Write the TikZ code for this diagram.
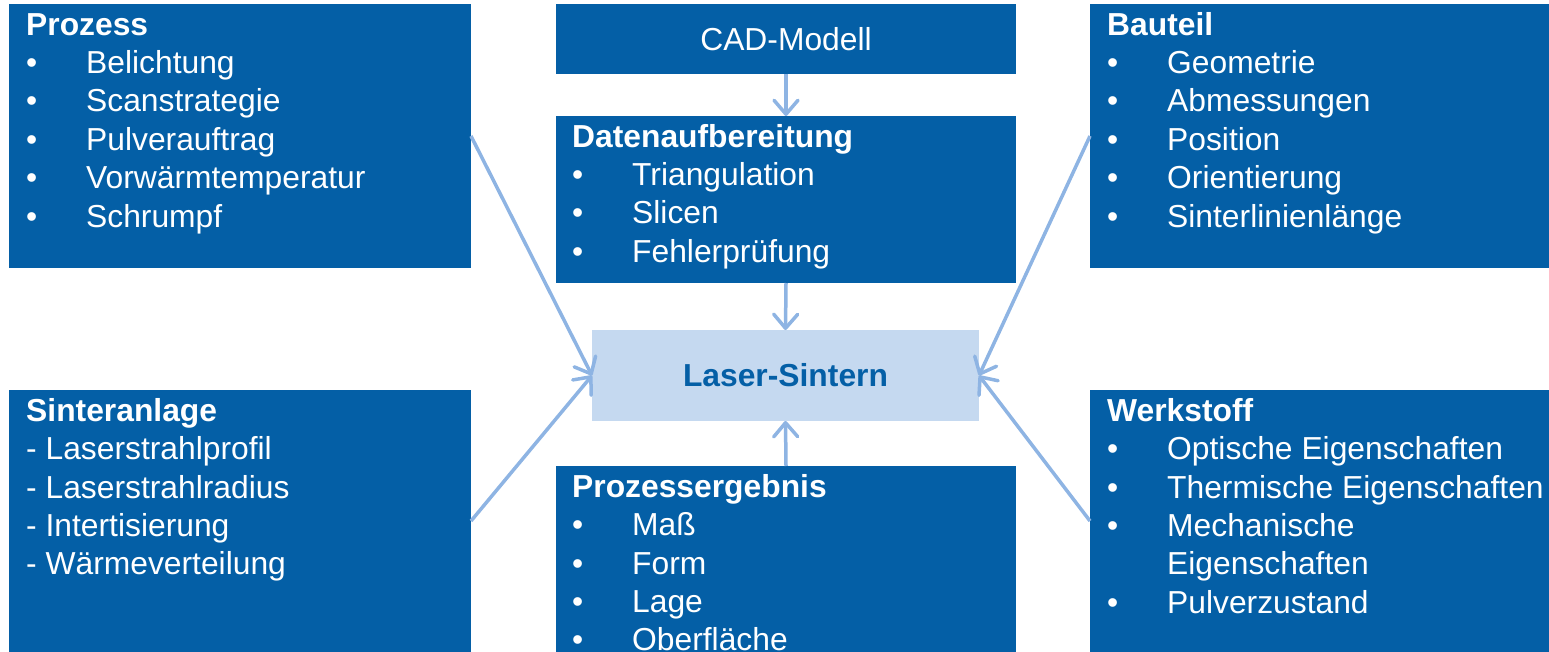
\documentclass[tikz,border=0pt]{standalone}
\usepackage{fontspec}
\setmainfont{Liberation Sans}
\usetikzlibrary{arrows.meta}

\definecolor{dunkelblau}{RGB}{4,95,166}
\definecolor{hellblau}{RGB}{197,217,240}
\definecolor{pfeilblau}{RGB}{142,180,227}

% Aufzaehlungspunkt mit Einzug
\newcommand{\pkt}[1]{\makebox[60pt][l]{\textbullet}#1}
\newcommand{\erstezeile}{\rule{0pt}{24pt}}

\tikzset{
  kasten/.style={fill=dunkelblau, inner sep=0pt, outer sep=0pt},
  inhalt/.style={text=white, align=left, inner sep=0pt, anchor=north west,
    font=\fontsize{31.8}{38.4}\selectfont},
  pfeil/.style={draw=pfeilblau, line width=3.5pt,
    -{Straight Barb[length=14pt,width=24pt,line width=3.5pt,round]}},
}

\begin{document}
\begin{tikzpicture}[x=1pt,y=-1pt]
  \useasboundingbox (0,0) rectangle (1549,652);
  \clip (0,0) rectangle (1549,652);

  % Kaesten
  \node[kasten, minimum width=462pt, minimum height=264pt] (prozess) at (240,136) {};
  \node[kasten, minimum width=460pt, minimum height=70pt, text=white,
    font=\fontsize{31.8}{38.4}\selectfont] (cad) at (786,39) {CAD-Modell};
  \node[kasten, minimum width=460pt, minimum height=167pt] (daten) at (786,199.5) {};
  \node[kasten, minimum width=459pt, minimum height=264pt] (bauteil) at (1319.5,136) {};
  \node[fill=hellblau, inner sep=0pt, outer sep=0pt, minimum width=387pt, minimum height=91pt,
    text=dunkelblau, font=\bfseries\fontsize{31.8}{38.4}\selectfont] (laser) at (785.5,375.5) {Laser-Sintern};
  \node[kasten, minimum width=462pt, minimum height=262pt] (anlage) at (240,521) {};
  \node[kasten, minimum width=460pt, minimum height=186pt] (ergebnis) at (786,559) {};
  \node[kasten, minimum width=459pt, minimum height=262pt] (werkstoff) at (1319.5,521) {};

  % Texte
  \node[inhalt] (prozesstext) at (26,11) {\erstezeile\textbf{Prozess}\\
    \pkt{Belichtung}\\ \pkt{Scanstrategie}\\ \pkt{Pulverauftrag}\\
    \pkt{Vorwärmtemperatur}\\ \pkt{Schrumpf}};
  \node[inhalt] (datentext) at (572,123) {\erstezeile\textbf{Datenaufbereitung}\\
    \pkt{Triangulation}\\ \pkt{Slicen}\\ \pkt{Fehlerprüfung}};
  \node[inhalt] (bauteiltext) at (1107,11) {\erstezeile\textbf{Bauteil}\\
    \pkt{Geometrie}\\ \pkt{Abmessungen}\\ \pkt{Position}\\
    \pkt{Orientierung}\\ \pkt{Sinterlinienlänge}};
  \node[inhalt] (anlagetext) at (26,397) {\erstezeile\textbf{Sinteranlage}\\
    - Laserstrahlprofil\\ - Laserstrahlradius\\ - Intertisierung\\ - Wärmeverteilung};
  \node[inhalt] (ergebnistext) at (572,473) {\erstezeile\textbf{Prozessergebnis}\\
    \pkt{Maß}\\ \pkt{Form}\\ \pkt{Lage}\\ \pkt{Oberfläche}};
  \node[inhalt] (werkstofftext) at (1107,397) {\erstezeile\textbf{Werkstoff}\\
    \pkt{Optische Eigenschaften}\\ \pkt{Thermische Eigenschaften}\\
    \pkt{Mechanische}\\ \hspace*{60pt}Eigenschaften\\ \pkt{Pulverzustand}};

  % Pfeile
  \draw[pfeil] (cad.south) -- (daten.north);
  \draw[pfeil] (daten.south) -- (laser.north);
  \draw[pfeil] (ergebnis.north) -- (laser.south);
  \draw[pfeil] (prozess.east) -- (laser.west);
  \draw[pfeil] (anlage.east) -- (laser.west);
  \draw[pfeil] (bauteil.west) -- (laser.east);
  \draw[pfeil] (werkstoff.west) -- (laser.east);
\end{tikzpicture}
\end{document}
